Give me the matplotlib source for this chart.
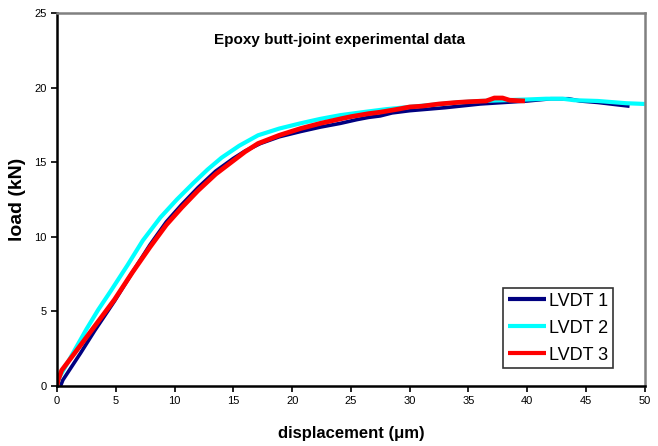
import matplotlib
matplotlib.use("Agg")
import matplotlib.pyplot as plt

plt.rcParams['font.family'] = ['Liberation Sans', 'DejaVu Sans']

title = "Epoxy butt-joint experimental data"
xlabel = "displacement (\u03bcm)"
ylabel = "load (kN)"
xticks = [0, 5, 10, 15, 20, 25, 30, 35, 40, 45, 50]
yticks = [0, 5, 10, 15, 20, 25]

lvdt1_x = [0.3, 0.5, 1.0, 2.0, 3.2, 4.9, 6.4, 7.9, 9.3, 10.6, 12.0, 13.5, 15.0, 16.0, 17.3, 18.9, 20.7,
           22.4, 24.1, 25.5, 26.5, 27.5, 28.5, 30.0, 31.5, 33.0, 34.8, 36.0, 38.0, 40.0, 42.0, 43.5, 44.5,
           46.0, 48.7]
lvdt1_y = [0.0, 0.4, 1.0, 2.2, 3.7, 5.7, 7.6, 9.45, 11.0, 12.15, 13.3, 14.4, 15.25, 15.75, 16.25, 16.7, 17.05,
           17.35, 17.6, 17.85, 18.0, 18.1, 18.3, 18.45, 18.55, 18.65, 18.8, 18.9, 19.0, 19.1, 19.25, 19.25,
           19.1, 19.0, 18.75]

lvdt2_x = [0.0, 0.2, 0.5, 1.5, 2.5, 3.5, 4.6, 6.0, 7.3, 8.8, 10.2, 11.6, 12.8, 14.0, 15.5, 17.1, 18.9, 20.7,
           22.4, 24.1, 26.0, 28.0, 30.0, 32.0, 34.0, 36.0, 38.0, 40.0, 41.6, 43.0, 44.0, 46.0, 48.4, 50.0]
lvdt2_y = [0.0, 0.6, 1.0, 2.4, 3.8, 5.1, 6.4, 8.1, 9.75, 11.3, 12.5, 13.6, 14.5, 15.3, 16.1, 16.8, 17.25, 17.6,
           17.9, 18.15, 18.35, 18.55, 18.7, 18.85, 19.0, 19.1, 19.15, 19.2, 19.25, 19.25, 19.15, 19.1, 18.95, 18.9]

lvdt3_x = [0.0, 0.1, 0.4, 1.5, 3.2, 4.9, 6.4, 7.9, 9.3, 10.6, 12.0, 13.5, 15.0, 16.0, 17.1, 18.9, 20.7,
           22.4, 24.1, 25.0, 26.5, 27.5, 29.0, 30.0, 31.0, 32.5, 34.0, 35.0, 36.5, 37.2, 37.9, 38.5, 39.8]
lvdt3_y = [0.0, 0.4, 1.05, 2.2, 4.0, 5.8, 7.6, 9.3, 10.8, 11.95, 13.1, 14.2, 15.1, 15.7, 16.25, 16.8, 17.25,
           17.6, 17.9, 18.05, 18.25, 18.35, 18.55, 18.7, 18.75, 18.9, 19.0, 19.05, 19.1, 19.3, 19.3, 19.15, 19.1]

fig = plt.figure(figsize=(6.58, 4.46), dpi=100)
ax = fig.add_axes([0.0866, 0.1345, 0.8934, 0.8365])

ax.plot(lvdt1_x, lvdt1_y, color='#000080', lw=2.6, label='LVDT 1', solid_capstyle='butt')
ax.plot(lvdt2_x, lvdt2_y, color='#00FFFF', lw=3.0, label='LVDT 2', solid_capstyle='butt')
ax.plot(lvdt3_x, lvdt3_y, color='#FF0000', lw=3.4, label='LVDT 3', solid_capstyle='butt')

ax.set_xlim(0, 50)
ax.set_ylim(0, 25)
ax.set_xticks(xticks)
ax.set_yticks(yticks)
ax.tick_params(direction='out', length=4, width=1.2, labelsize=8, colors='black')

for s in ['left', 'bottom']:
    ax.spines[s].set_color('black')
    ax.spines[s].set_linewidth(1.8)
for s in ['top', 'right']:
    ax.spines[s].set_color('#808080')
    ax.spines[s].set_linewidth(1.8)

ax.set_xlabel(xlabel, fontsize=12, fontweight='bold', labelpad=14)
ax.set_ylabel(ylabel, fontsize=14, fontweight='bold', labelpad=6)
ax.text(0.48, 0.928, title, transform=ax.transAxes, ha='center', va='center',
        fontsize=11, fontweight='bold')

leg = ax.legend(loc='lower right', bbox_to_anchor=(0.9456, 0.048), fontsize=13, frameon=True,
                fancybox=False, edgecolor='black', handlelength=2.1, borderpad=0.25,
                labelspacing=0.55, handletextpad=0.2, borderaxespad=0)
leg.get_frame().set_linewidth(1.2)
for line in leg.get_lines():
    line.set_linewidth(3.0)

fig.savefig('out.png', dpi=100)
